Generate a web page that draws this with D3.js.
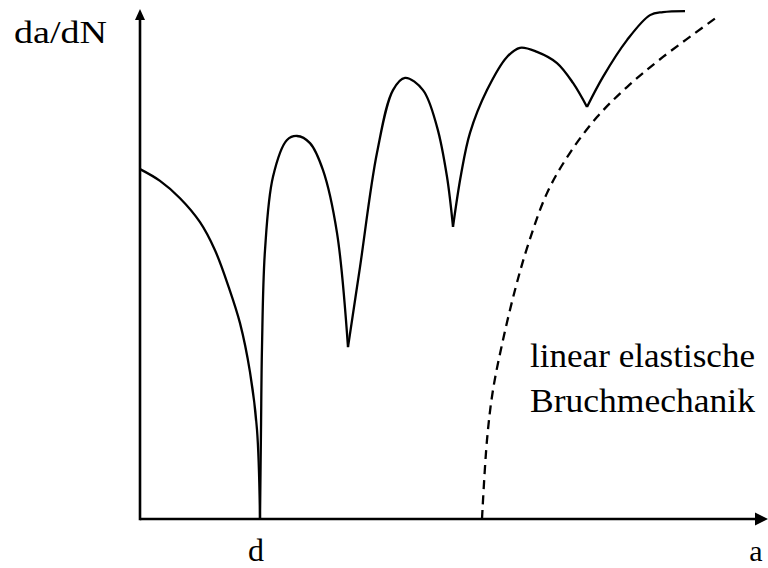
<!DOCTYPE html>
<html>
<head>
<meta charset="utf-8">
<script src="https://cdn.jsdelivr.net/npm/d3@7"></script>
<style>
  html, body { margin: 0; padding: 0; background: #fff; }
  svg { display: block; }
  text { font-family: "Liberation Serif", "DejaVu Serif", serif; fill: #000; }
</style>
</head>
<body>
<svg id="chart" width="768" height="568"></svg>
<script>
// Crack length a (normalised 0..100) and growth rate da/dN (normalised 0..100).
// The small-crack curve is stored branch by branch; each branch ends at a cusp.
const branch0A = [0, 3.2, 6.4, 9.6, 12.0, 14.24, 16.0, 17.6, 18.72, 19.2];
const branch0R = [68.6, 66.3, 62.9, 58.2, 52.7, 45.3, 38.4, 28.8, 17.5, 0];

const branch1A = [19.2, 19.36, 19.52, 20.0, 21.28, 23.52, 25.12, 27.2, 29.28, 31.52, 33.28];
const branch1R = [0, 17.5, 33.7, 52.7, 67.1, 74.3, 75.1, 73.7, 68.4, 56.1, 33.7];

const branch2A = [33.28, 35.2, 37.92, 40.48, 42.4, 45.28, 47.52, 49.12, 50.08];
const branch2R = [33.7, 49.4, 71.8, 84.1, 86.5, 84.1, 76.9, 67.1, 57.3];

const branch3A = [50.08, 51.36, 52.8, 55.52, 58.72, 60.8, 63.52, 66.72, 69.28, 71.52];
const branch3R = [57.3, 67.5, 75.7, 84.1, 90.6, 92.4, 91.6, 89.4, 85.5, 80.8];

const branch4A = [71.52, 74.08, 77.92, 81.6, 83.68, 87.2];
const branch4R = [80.8, 86.7, 93.9, 98.8, 99.4, 99.6];

// Long-crack curve from linear elastic fracture mechanics
const lefmA = [54.72, 55.52, 56.48, 58.08, 60.0, 61.92, 65.12, 68.8, 73.12, 77.92, 83.68, 92.32];
const lefmR = [0, 15.5, 25.3, 35.1, 44.9, 53.1, 63.9, 71.8, 78.8, 84.7, 90.6, 98.4];

// Axis and annotation labels
const yAxisLabel = "da/dN";
const xAxisLabel = "a";
const tickLabels = [{ a: 19.2, text: "d" }];
const noteLines = ["linear elastische", "Bruchmechanik"];

const svg = d3.select("#chart");
const x = d3.scaleLinear().domain([0, 100]).range([140, 765]);
const y = d3.scaleLinear().domain([0, 100]).range([519, 9]);

const line = d3.line()
  .x(d => x(d[0]))
  .y(d => y(d[1]))
  .curve(d3.curveCatmullRom.alpha(0.5));

const zip = (as, rs) => as.map((a, i) => [a, rs[i]]);

// Axes with arrow heads
const x0 = x(0), y0 = y(0);
svg.append("line")
  .attr("x1", x0).attr("y1", y0).attr("x2", x(100) - 6).attr("y2", y0)
  .attr("stroke", "#000").attr("stroke-width", 2.6);
svg.append("line")
  .attr("x1", x0).attr("y1", y0 + 1.3).attr("x2", x0).attr("y2", y(100) + 8)
  .attr("stroke", "#000").attr("stroke-width", 2.6);
svg.append("path")
  .attr("d", `M${x(100) + 3},${y0} L${x(100) - 10},${y0 - 6.5} L${x(100) - 10},${y0 + 6.5} Z`)
  .attr("fill", "#000");
svg.append("path")
  .attr("d", `M${x0},${y(100)} L${x0 - 5},${y(100) + 11} L${x0 + 5},${y(100) + 11} Z`)
  .attr("fill", "#000");

// Small-crack growth curve, one path per branch so the cusps stay sharp
const branches = [
  zip(branch0A, branch0R), zip(branch1A, branch1R), zip(branch2A, branch2R),
  zip(branch3A, branch3R), zip(branch4A, branch4R)
];
svg.append("g").selectAll("path")
  .data(branches)
  .join("path")
  .attr("d", line)
  .attr("fill", "none")
  .attr("stroke", "#000")
  .attr("stroke-width", 2.3)
  .attr("stroke-linejoin", "round");

// Linear elastic fracture mechanics curve (dashed)
svg.append("path")
  .datum(zip(lefmA, lefmR))
  .attr("d", line)
  .attr("fill", "none")
  .attr("stroke", "#000")
  .attr("stroke-width", 2.3)
  .attr("stroke-dasharray", "9,6");

// Labels
svg.append("text")
  .attr("x", 14).attr("y", 43)
  .attr("font-size", 31)
  .attr("textLength", 93).attr("lengthAdjust", "spacingAndGlyphs")
  .text(yAxisLabel);

svg.append("g").selectAll("text")
  .data(tickLabels)
  .join("text")
  .attr("x", d => x(d.a) - 4).attr("y", 561)
  .attr("text-anchor", "middle")
  .attr("font-size", 32)
  .text(d => d.text);

svg.append("text")
  .attr("x", 756).attr("y", 561)
  .attr("text-anchor", "middle")
  .attr("font-size", 30)
  .text(xAxisLabel);

svg.append("g").selectAll("text")
  .data(noteLines)
  .join("text")
  .attr("x", 530).attr("y", (d, i) => 367 + i * 45)
  .attr("font-size", 34)
  .attr("textLength", 225).attr("lengthAdjust", "spacingAndGlyphs")
  .text(d => d);
</script>
</body>
</html>
